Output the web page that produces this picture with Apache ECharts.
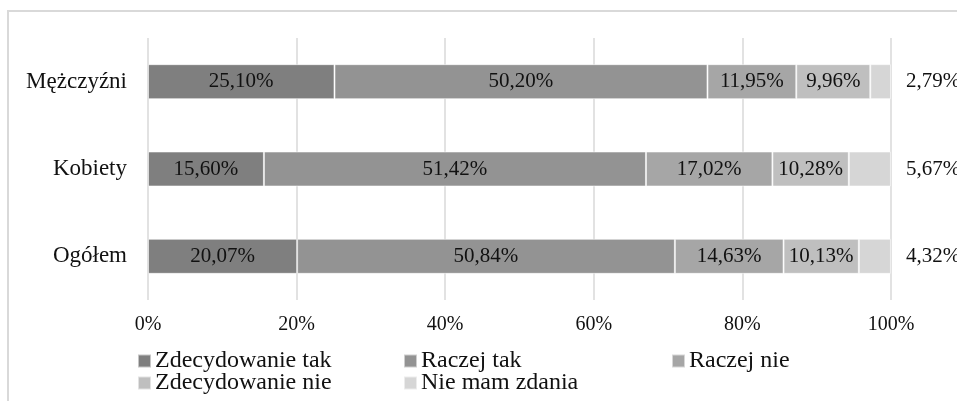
<!DOCTYPE html>
<html>
<head>
<meta charset="utf-8">
<script src="https://cdn.jsdelivr.net/npm/echarts@6/dist/echarts.min.js"></script>
<style>
  html, body { margin: 0; padding: 0; background: #fff; }
  #chart { width: 957px; height: 401px; }
</style>
</head>
<body>
<div id="chart"></div>
<script>
// Survey answers by group (percent of respondents)
const categories = ['Ogółem', 'Kobiety', 'Mężczyźni'];
const seriesNames = ['Zdecydowanie tak', 'Raczej tak', 'Raczej nie', 'Zdecydowanie nie', 'Nie mam zdania'];
const zdecydowanieTak = [20.07, 15.60, 25.10];
const raczejTak = [50.84, 51.42, 50.20];
const raczejNie = [14.63, 17.02, 11.95];
const zdecydowanieNie = [10.13, 10.28, 9.96];
const nieMamZdania = [4.32, 5.67, 2.79];
const xTicks = [0, 20, 40, 60, 80, 100];

const values = [zdecydowanieTak, raczejTak, raczejNie, zdecydowanieNie, nieMamZdania];
const colors = ['#7f7f7f', '#939393', '#a6a6a6', '#bfbfbf', '#d6d6d6'];
const serif = '"Liberation Serif", "Times New Roman", serif';

const fmt = v => v.toFixed(2).replace('.', ',') + '%';

const series = seriesNames.map((name, i) => ({
  name: name,
  type: 'bar',
  stack: 'total',
  barWidth: 35,
  data: values[i],
  itemStyle: { color: colors[i], borderColor: 'rgba(255,255,255,0.55)', borderWidth: 1 },
  label: {
    show: true,
    position: i === 4 ? 'right' : 'inside',
    distance: 15,
    formatter: p => fmt(p.value),
    fontFamily: serif,
    fontSize: 21,
    color: '#111111'
  },
  emphasis: { disabled: true }
}));

// legend laid out in fixed columns, two rows
const legendPos = [
  [137, 349], [403, 349], [671, 349],
  [137, 371], [403, 371]
];
const legends = seriesNames.map((name, i) => ({
  data: [name],
  left: legendPos[i][0],
  top: legendPos[i][1],
  padding: 0,
  icon: 'rect',
  itemWidth: 13,
  itemHeight: 13,
  itemGap: 0,
  textStyle: { fontFamily: serif, fontSize: 24, color: '#111111', padding: [0, 0, 0, -1] }
}));

const chart = echarts.init(document.getElementById('chart'), null, { renderer: 'canvas' });
chart.setOption({
  animation: false,
  backgroundColor: '#ffffff',
  color: colors,
  grid: { left: 148, right: 66, top: 38, bottom: 101, containLabel: false },
  graphic: [{
    type: 'rect',
    shape: { x: 8, y: 11, width: 1200, height: 600 },
    style: { fill: 'none', stroke: '#d9d9d9', lineWidth: 2 },
    silent: true,
    z: -10
  }],
  legend: legends,
  xAxis: {
    type: 'value',
    min: xTicks[0],
    max: xTicks[xTicks.length - 1],
    interval: xTicks[1] - xTicks[0],
    axisLine: { show: false },
    axisTick: { show: false },
    splitLine: { lineStyle: { color: '#d9d9d9', width: 1.5 } },
    axisLabel: { formatter: '{value}%', fontFamily: serif, fontSize: 20, color: '#111111', margin: 15 }
  },
  yAxis: {
    type: 'category',
    data: categories,
    axisLine: { show: false },
    axisTick: { show: false },
    axisLabel: { fontFamily: serif, fontSize: 23, color: '#111111', margin: 21 }
  },
  series: series
});
</script>
</body>
</html>
